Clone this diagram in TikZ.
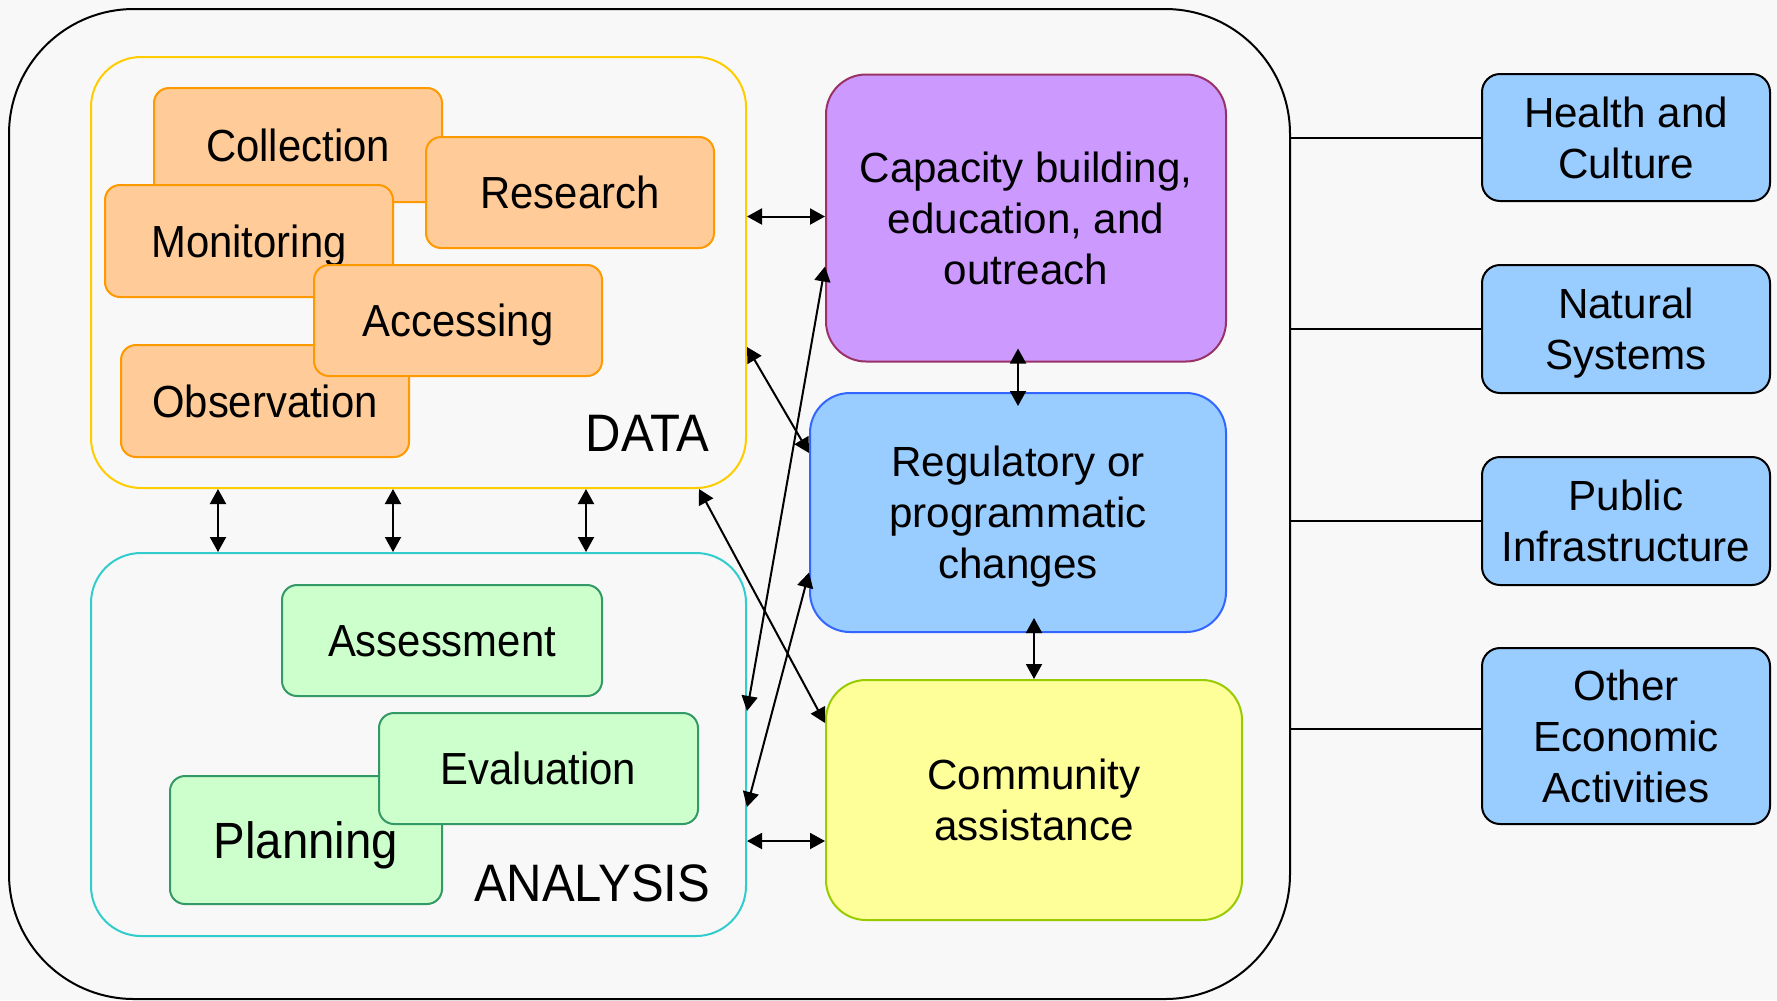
\documentclass[tikz,border=0pt]{standalone}
\usepackage{fontspec}
\setmainfont{Liberation Sans}
\newfontfamily\narrowfont[FakeStretch=0.93]{Liberation Sans}
\usetikzlibrary{positioning,arrows.meta}

\definecolor{bgcol}{HTML}{F8F8F8}
\definecolor{orfill}{HTML}{FFCC99}
\definecolor{ordraw}{HTML}{FF9900}
\definecolor{datacol}{HTML}{FFCC00}
\definecolor{anacol}{HTML}{33CCCC}
\definecolor{grfill}{HTML}{CCFFCC}
\definecolor{grdraw}{HTML}{339966}
\definecolor{capfill}{HTML}{CC99FF}
\definecolor{capdraw}{HTML}{993366}
\definecolor{regfill}{HTML}{99CCFF}
\definecolor{regdraw}{HTML}{3366FF}
\definecolor{comfill}{HTML}{FFFF99}
\definecolor{comdraw}{HTML}{99CC00}

\begin{document}
\begin{tikzpicture}[x=0.1mm,y=-0.1mm,>={Triangle[length=1.5mm,width=1.6mm]},
  grp/.style={draw,line width=0.2mm,inner sep=0},
  obox/.style={draw=ordraw,fill=orfill,line width=0.2mm,rounded corners=1.5mm,minimum width=28.8mm,inner sep=0,text height=9.3pt,text depth=0pt,font=\narrowfont\fontsize{12.8}{15}\selectfont},
  gbox/.style={draw=grdraw,fill=grfill,line width=0.2mm,rounded corners=1.5mm,inner sep=0,text height=9.3pt,text depth=0pt,font=\narrowfont\fontsize{12.8}{15}\selectfont},
  bigbox/.style={line width=0.2mm,rounded corners=4mm,inner sep=0,align=center,text depth=0pt,font=\fontsize{12}{14.5}\selectfont},
  rbox/.style={draw=black,fill=regfill,line width=0.2mm,rounded corners=1.8mm,minimum width=28.8mm,inner sep=0,align=center,text depth=0pt,font=\fontsize{12}{14.5}\selectfont},
  lbl/.style={inner sep=0,font=\narrowfont\fontsize{15}{17}\selectfont},
  dbl/.style={<->,line width=0.2mm}]
\useasboundingbox[fill=bgcol] (0,0) rectangle (1777,1000);

% frames
\node[grp,draw=black,rounded corners=12.5mm,minimum width=128.1mm,minimum height=99mm] (outer) at (649.5,504) {};
\node[grp,draw=datacol,rounded corners=5mm,minimum width=65.5mm,minimum height=43.1mm] (data) at (418.5,272.5) {};
\node[grp,draw=anacol,rounded corners=5mm,minimum width=65.5mm,minimum height=38.3mm] (analysis) at (418.5,744.5) {};
\node[lbl,anchor=base east] (datalbl) at (710,451) {DATA};
\node[lbl,anchor=base east] (analysislbl) at (711,901) {ANALYSIS};

% data boxes
\node[obox,minimum height=11.4mm] (coll) at (298,145) {Collection};
\node[obox,minimum height=11.1mm] (res) at (570,192.5) {Research};
\node[obox,minimum height=11.2mm] (mon) at (249,241) {Monitoring};
\node[obox,minimum height=11.2mm] (obs) at (265,401) {Observation};
\node[obox,minimum height=11.1mm] (acc) at (458,320.5) {Accessing};

% analysis boxes
\node[gbox,minimum width=32mm,minimum height=11.1mm] (ass) at (442,640.5) {Assessment};
\node[gbox,minimum width=27.2mm,minimum height=12.8mm,text height=10.6pt,font=\narrowfont\fontsize{14.5}{17}\selectfont] (pla) at (306,840) {Planning};
\node[gbox,minimum width=31.9mm,minimum height=11.1mm] (eva) at (538.5,768.5) {Evaluation};

% outcomes
\node[bigbox,draw=capdraw,fill=capfill,minimum width=40mm,minimum height=28.7mm] (capacity) at (1026,218) {Capacity building,\\education, and\\outreach};
\node[bigbox,draw=regdraw,fill=regfill,minimum width=41.6mm,minimum height=23.9mm] (regulatory) at (1018,512.5) {Regulatory or\\programmatic\\changes};
\node[bigbox,draw=comdraw,fill=comfill,minimum width=41.6mm,minimum height=24mm] (community) at (1034,800) {Community\\assistance};

% sectors
\node[rbox,minimum height=12.7mm] (health) at (1626,137.5) {Health and\\Culture};
\node[rbox,minimum height=12.8mm] (natural) at (1626,329) {Natural\\Systems};
\node[rbox,minimum height=12.8mm] (public) at (1626,521) {Public\\Infrastructure};
\node[rbox,minimum height=17.6mm] (other) at (1626,736) {Other\\Economic\\Activities};

\foreach \s in {health,natural,public}
  \draw[line width=0.2mm] (outer.east |- \s.west) -- (\s.west);
\coordinate (ol) at ([yshift=0.7mm]other.west);
\draw[line width=0.2mm] (outer.east |- ol) -- (ol);

% data <-> analysis
\foreach \x in {218,393,586}
  \draw[dbl] (data.south -| \x,0) -- (analysis.north -| \x,0);

\draw[dbl] ([yshift=0.15mm]data.east |- capacity.west) -- ([yshift=0.15mm]capacity.west);
\coordinate (ca) at ([yshift=-4.1mm]community.west);
\draw[dbl] (analysis.east |- ca) -- (ca);
\draw[dbl,shorten <=-1.4mm,shorten >=-1.4mm] (regulatory.north |- capacity.south) -- (regulatory.north);
\draw[dbl,shorten <=-1.5mm] (community.north |- regulatory.south) -- (community.north);
\draw[dbl] ([yshift=-7.45mm]data.east) -- ([yshift=5.95mm]regulatory.west);
\draw[dbl] ([xshift=-4.8mm]data.south east) -- ([yshift=7.7mm]community.west);
\draw[dbl] ([yshift=-4.85mm]capacity.west) -- ([yshift=3.35mm]analysis.east);
\draw[dbl] ([yshift=-6mm]regulatory.west) -- ([yshift=-6.25mm]analysis.east);
\end{tikzpicture}
\end{document}
